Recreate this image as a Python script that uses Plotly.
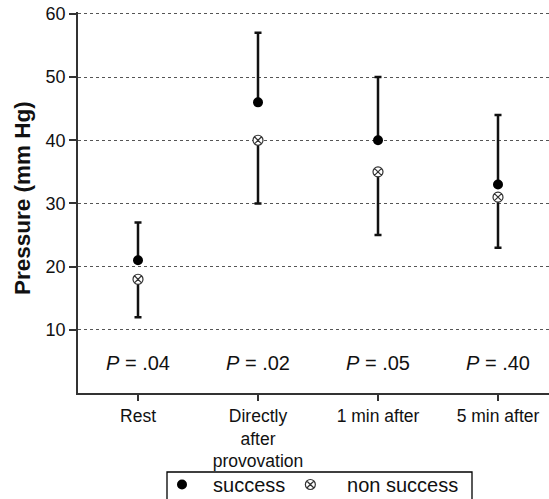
import plotly.graph_objects as go

categories = ["Rest", "Directly<br>after<br>provovation", "1 min after", "5 min after"]
success_mean = [21, 46, 40, 33]
success_upper = [27, 57, 50, 44]
non_success_mean = [18, 40, 35, 31]
non_success_lower = [12, 30, 25, 23]
p_labels = [".04", ".02", ".05", ".40"]
y_ticks = [10, 20, 30, 40, 50, 60]

xpos = list(range(len(categories)))
succ_err = [u - m for u, m in zip(success_upper, success_mean)]
non_err = [m - l for m, l in zip(non_success_mean, non_success_lower)]

FONT = "Liberation Sans, Arial, sans-serif"
W, H = 549, 499
ML, MR, MT, MB = 78, 0, 12, 106
PW = W - ML - MR
PH = H - MT - MB
NB = "\u00a0"


def px(xp):  # page x -> paper x
    return (xp - ML) / PW


def py(yp):  # page y -> paper y
    return (H - MB - yp) / PH


fig = go.Figure()
fig.add_trace(go.Scatter(
    x=xpos, y=success_mean, mode="markers", name=NB * 2 + "success",
    marker=dict(symbol="circle", size=10, color="black"),
    error_y=dict(type="data", symmetric=False, array=succ_err,
                 arrayminus=[0] * len(xpos), color="#111", thickness=2.5, width=3.5),
))
fig.add_trace(go.Scatter(
    x=xpos, y=non_success_mean, mode="markers", name=NB * 3 + "non success",
    marker=dict(symbol="circle-x", size=10, color="white",
                line=dict(color="#333", width=1.2)),
    error_y=dict(type="data", symmetric=False, array=[0] * len(xpos),
                 arrayminus=non_err, color="#111", thickness=2.5, width=3.5),
))

for xi, p in zip(xpos, p_labels):
    fig.add_annotation(x=xi, y=4.8, text=f"<i>P</i> = {p}", showarrow=False,
                       font=dict(size=20, color="#111", family=FONT))

# y-axis title (page coords: centre x=22, y=198)
fig.add_annotation(xref="paper", yref="paper", x=px(22), y=py(198),
                   xanchor="center", yanchor="middle", textangle=-90, showarrow=False,
                   text="<b>Pressure (mm Hg)</b>",
                   font=dict(size=22.5, family=FONT, color="#111"))

# legend frame
fig.add_shape(type="rect", xref="paper", yref="paper",
              x0=px(167), x1=px(472), y0=py(505), y1=py(472),
              line=dict(color="black", width=1.3), fillcolor="rgba(0,0,0,0)", layer="above")

fig.update_layout(
    width=W, height=H,
    margin=dict(l=ML, r=MR, t=MT, b=MB, autoexpand=False),
    plot_bgcolor="white", paper_bgcolor="white",
    font=dict(family=FONT, color="#111"),
    showlegend=True,
    legend=dict(orientation="h", xref="paper", yref="paper",
                x=px(162), xanchor="left",
                y=py(465), yanchor="top",
                bgcolor="rgba(0,0,0,0)", borderwidth=0,
                font=dict(size=20, family=FONT, color="#111")),
    xaxis=dict(range=[-0.5, 3.425], tickvals=xpos, ticktext=categories,
               showline=True, linecolor="#333", linewidth=1.5,
               ticks="outside", ticklen=6, tickcolor="#333", tickwidth=1.5,
               showgrid=False, zeroline=False, automargin=False,
               tickfont=dict(size=17.5, family=FONT, color="#111")),
    yaxis=dict(range=[0, 60.3], tickvals=y_ticks,
               showline=True, linecolor="#333", linewidth=1.5,
               ticks="outside", ticklen=7, tickcolor="#333", tickwidth=1.5,
               showgrid=True, gridcolor="#555", griddash="dot", gridwidth=1,
               zeroline=False, automargin=False, ticklabeloverflow="allow",
               tickfont=dict(size=18, family=FONT, color="#111")),
)

fig.write_html("out.html", config={"displayModeBar": False},
               post_script="document.body.style.margin='0px';")
